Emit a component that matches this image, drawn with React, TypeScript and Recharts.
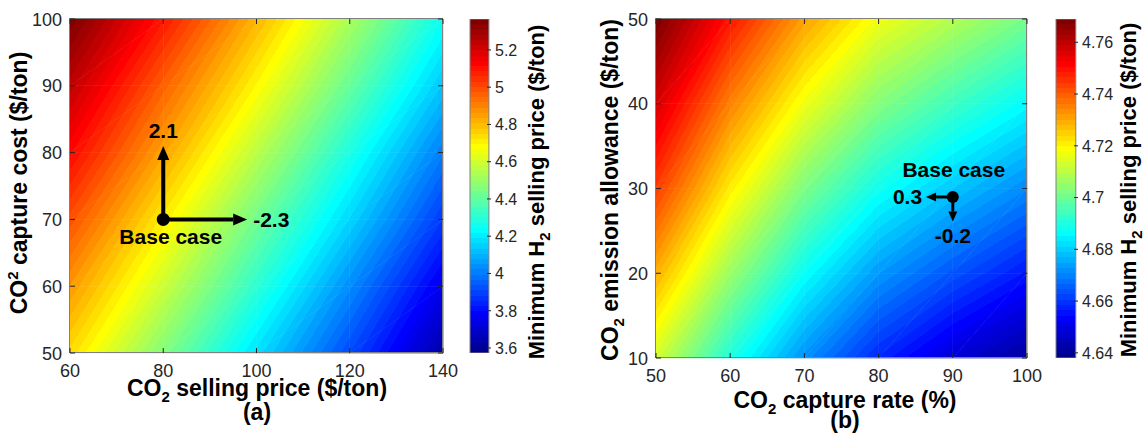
import React from "react";
import {
  ComposedChart,
  XAxis,
  YAxis,
  Scatter,
  Bar,
  ReferenceArea,
  ReferenceLine,
} from "recharts";

const FONT = "'Liberation Sans', Arial, Helvetica, sans-serif";
const INK = "#262626";
const FRAME = "#808080";

// (a) CO2 selling price (x) vs CO2 capture cost (y)
const A_X = [60, 80, 100, 120, 140];
const A_Y = [50, 60, 70, 80, 90, 100];
// minimum H2 selling price at every node, one row per A_Y value
const A_PRICE = [
  [4.74, 4.46, 4.18, 3.91, 3.63],
  [4.86, 4.59, 4.31, 4.03, 3.75],
  [4.99, 4.71, 4.43, 4.16, 3.88],
  [5.12, 4.84, 4.56, 4.28, 4.0],
  [5.24, 4.96, 4.69, 4.41, 4.13],
  [5.36, 5.09, 4.81, 4.53, 4.25],
];
const A_RANGE = [3.573, 5.366];
const A_CB_TICKS = [3.6, 3.8, 4, 4.2, 4.4, 4.6, 4.8, 5, 5.2];
const A_BASE = [{ x: 80, y: 70 }];
const A_ARROWS = [
  { x: 80, y: 81, text: "2.1", dir: "up" },
  { x: 98, y: 70, text: "-2.3", dir: "right" },
];

// (b) CO2 capture rate (x) vs CO2 emission allowance (y)
const B_X = [50, 60, 70, 80, 90, 100];
const B_Y = [10, 20, 30, 40, 50];
const B_PRICE = [
  [4.713, 4.69, 4.672, 4.658, 4.648, 4.641],
  [4.729, 4.706, 4.687, 4.673, 4.664, 4.656],
  [4.744, 4.721, 4.702, 4.688, 4.679, 4.671],
  [4.757, 4.735, 4.717, 4.703, 4.694, 4.686],
  [4.769, 4.749, 4.731, 4.717, 4.709, 4.701],
];
const B_RANGE = [4.638, 4.769];
const B_CB_TICKS = [4.64, 4.66, 4.68, 4.7, 4.72, 4.74, 4.76];
const B_BASE = [{ x: 90, y: 29 }];
const B_ARROWS = [
  { x: 86.4, y: 29, text: "0.3", dir: "left" },
  { x: 90, y: 26.1, text: "-0.2", dir: "down" },
];

// matlab-like jet, 64 levels
const jet = (t: number) => {
  const c = (v: number) => Math.round(255 * Math.min(1, Math.max(0, v)));
  return `rgb(${c(1.5 - Math.abs(4 * t - 3))},${c(1.5 - Math.abs(4 * t - 2))},${c(
    1.5 - Math.abs(4 * t - 1)
  )})`;
};
const LEVELS = 64;
const JET = Array.from({ length: LEVELS }, (_, k) => jet((k + 1) / LEVELS));

const JetGradient = ({ id, ...rest }: any) => (
  <linearGradient id={id} {...rest}>
    {JET.flatMap((c, k) => [
      <stop key={`${k}a`} offset={k / LEVELS} stopColor={c} />,
      <stop key={`${k}b`} offset={(k + 1) / LEVELS} stopColor={c} />,
    ])}
  </linearGradient>
);

type Pt = [number, number];

// one triangle, colour varies linearly between its three corner values
const Tri = ({ gid, base, pts, vals, range }: any) => {
  const [[x0, y0], [x1, y1], [x2, y2]] = pts as Pt[];
  const [f0, f1, f2] = vals as number[];
  const det = (x1 - x0) * (y2 - y0) - (x2 - x0) * (y1 - y0);
  if (!det || !isFinite(det)) return null;
  const gx = ((f1 - f0) * (y2 - y0) - (f2 - f0) * (y1 - y0)) / det;
  const gy = ((x1 - x0) * (f2 - f0) - (x2 - x0) * (f1 - f0)) / det;
  const g2 = gx * gx + gy * gy || 1e-12;
  const cx = (x0 + x1 + x2) / 3;
  const cy = (y0 + y1 + y2) / 3;
  const fc = (f0 + f1 + f2) / 3;
  const s0 = (range[0] - fc) / g2;
  const s1 = (range[1] - fc) / g2;
  return (
    <>
      <linearGradient
        id={gid}
        href={`#${base}`}
        gradientUnits="userSpaceOnUse"
        x1={cx + s0 * gx}
        y1={cy + s0 * gy}
        x2={cx + s1 * gx}
        y2={cy + s1 * gy}
      />
      <polygon
        points={(pts as Pt[]).map((p) => p.join(",")).join(" ")}
        fill={`url(#${gid})`}
        stroke={`url(#${gid})`}
        strokeWidth={0.6}
      />
    </>
  );
};

const Cell4 = ({ x, y, width, height, z, range, base, gid }: any) => {
  const bl: Pt = [x, y + height];
  const br: Pt = [x + width, y + height];
  const tr: Pt = [x + width, y];
  const tl: Pt = [x, y];
  return (
    <g>
      <Tri gid={gid + "a"} base={base} range={range} pts={[bl, br, tr]} vals={[z[0], z[1], z[2]]} />
      <Tri gid={gid + "b"} base={base} range={range} pts={[bl, tr, tl]} vals={[z[0], z[2], z[3]]} />
    </g>
  );
};

const ArrowShape = ({ x1, y1, x2, y2, text, dir, sz }: any) => {
  const L = Math.hypot(x2 - x1, y2 - y1) || 1;
  const ux = (x2 - x1) / L;
  const uy = (y2 - y1) / L;
  const bx = x2 - ux * sz.head;
  const by = y2 - uy * sz.head;
  const nx = -uy * (sz.headW / 2);
  const ny = ux * (sz.headW / 2);
  let tx = x2;
  let ty = y2;
  let anchor = "middle";
  if (dir === "up") ty = y2 - 8;
  if (dir === "down") ty = y2 + 21;
  if (dir === "right") {
    tx = x2 + 6;
    ty = y2 + 7.5;
    anchor = "start";
  }
  if (dir === "left") {
    tx = x2 - 4;
    ty = y2 + 7.5;
    anchor = "end";
  }
  return (
    <g>
      <line x1={x1} y1={y1} x2={bx} y2={by} stroke="#000" strokeWidth={sz.shaft} />
      <polygon points={`${x2},${y2} ${bx + nx},${by + ny} ${bx - nx},${by - ny}`} fill="#000" />
      <text x={tx} y={ty} textAnchor={anchor} fontFamily={FONT} fontWeight="bold" fontSize={21} fill="#000">
        {text}
      </text>
    </g>
  );
};

// text with a raised / lowered "2"
const Scripted = ({ pre, mark, post, dy }: { pre: string; mark: string; post: string; dy: number }) => (
  <>
    <tspan>{pre}</tspan>
    <tspan fontSize={15} dy={dy}>
      {mark}
    </tspan>
    <tspan dy={-dy}>{post}</tspan>
  </>
);

function Panel(props: any) {
  const {
    id, left, width, right, xAxisH, X, Y, Z, range, base, arrows,
    xTicks, yTicks, xTitle, yTitle, tag, xTitleX, xTitleY, tagY, yTitleX, yTitleY,
    baseDx, baseDy, dotR, sz,
  } = props;
  const plotH = 434 - 19 - xAxisH;
  const plotW = width - 70 - right;
  const cells: React.ReactNode[] = [];
  for (let j = 0; j < Y.length - 1; j++) {
    for (let i = 0; i < X.length - 1; i++) {
      const z = [Z[j][i], Z[j][i + 1], Z[j + 1][i + 1], Z[j + 1][i]];
      cells.push(
        <ReferenceArea
          key={`c${i}-${j}`}
          x1={X[i]}
          x2={X[i + 1]}
          y1={Y[j]}
          y2={Y[j + 1]}
          ifOverflow="visible"
          shape={(p: any) => (
            <Cell4 {...p} z={z} range={range} base={`${id}-jet`} gid={`${id}-g${i}-${j}`} />
          )}
        />
      );
    }
  }
  return (
    <div style={{ position: "absolute", left, top: 0 }}>
      <ComposedChart width={width} height={434} margin={{ top: 19, right, bottom: 0, left: 0 }}>
        <defs>
          <JetGradient id={`${id}-jet`} />
        </defs>
        {cells}
        <ReferenceArea
          x1={X[0]}
          x2={X[X.length - 1]}
          y1={Y[0]}
          y2={Y[Y.length - 1]}
          ifOverflow="visible"
          shape={(p: any) => (
            <rect x={p.x - 0.5} y={p.y - 0.5} width={p.width} height={p.height} fill="none" stroke={FRAME} />
          )}
        />
        {arrows.map((a: any, k: number) => (
          <ReferenceLine
            key={`ar${k}`}
            segment={[
              { x: base[0].x, y: base[0].y },
              { x: a.x, y: a.y },
            ]}
            ifOverflow="visible"
            shape={(p: any) => <ArrowShape {...p} text={a.text} dir={a.dir} sz={sz} />}
          />
        ))}
        <Scatter
          data={base}
          isAnimationActive={false}
          shape={(p: any) => (
            <g>
              <circle cx={p.cx} cy={p.cy} r={dotR} fill="#000" />
              <text
                x={p.cx + baseDx}
                y={p.cy + baseDy}
                textAnchor="middle"
                fontFamily={FONT}
                fontWeight="bold"
                fontSize={21}
                fill="#000"
              >
                Base case
              </text>
            </g>
          )}
        />
        <XAxis
          type="number"
          dataKey="x"
          domain={[X[0], X[X.length - 1]]}
          ticks={xTicks}
          interval={0}
          allowDataOverflow
          height={xAxisH}
          tickSize={0}
          tickMargin={0}
          axisLine={false}
          tickLine={false}
          tick={(p: any) => (
            <g>
              <line x1={p.x} y1={p.y} x2={p.x} y2={p.y - 5} stroke={INK} />
              <line x1={p.x} y1={p.y - plotH} x2={p.x} y2={p.y - plotH + 5} stroke={INK} />
              <text x={p.x} y={p.y + 24} textAnchor="middle" fontFamily={FONT} fontSize={18} fill={INK}>
                {p.payload.value}
              </text>
            </g>
          )}
          label={() => (
            <g fontFamily={FONT} fontWeight="bold" fill="#000">
              <text x={xTitleX} y={xTitleY} textAnchor="middle" fontSize={23}>
                <Scripted {...xTitle} />
              </text>
              <text x={xTitleX} y={tagY} textAnchor="middle" fontSize={23}>
                {tag}
              </text>
            </g>
          )}
        />
        <YAxis
          type="number"
          dataKey="y"
          domain={[Y[0], Y[Y.length - 1]]}
          ticks={yTicks}
          interval={0}
          allowDataOverflow
          width={70}
          tickSize={0}
          tickMargin={0}
          axisLine={false}
          tickLine={false}
          tick={(p: any) => (
            <g>
              <line x1={p.x} y1={p.y} x2={p.x + 5} y2={p.y} stroke={INK} />
              <line x1={p.x + plotW} y1={p.y} x2={p.x + plotW - 5} y2={p.y} stroke={INK} />
              <text x={p.x - 8} y={p.y + 6.5} textAnchor="end" fontFamily={FONT} fontSize={18} fill={INK}>
                {p.payload.value}
              </text>
            </g>
          )}
          label={() => (
            <text
              transform={`translate(${yTitleX},${yTitleY}) rotate(-90)`}
              textAnchor="middle"
              fontFamily={FONT}
              fontWeight="bold"
              fontSize={23}
              fill="#000"
            >
              <Scripted {...yTitle} />
            </text>
          )}
        />
      </ComposedChart>
    </div>
  );
}

function Colorbar({ id, left, plotW, plotH, range, ticks, titleX, titleY }: any) {
  const width = 9 + plotW + 70;
  const data = [{ name: "cb", span: range }];
  return (
    <div style={{ position: "absolute", left, top: 0 }}>
      <ComposedChart
        width={width}
        height={434}
        data={data}
        barCategoryGap={0}
        margin={{ top: 19, right: 0, bottom: 434 - 19 - plotH, left: 9 }}
      >
        <defs>
          <JetGradient id={`${id}-cb`} x1={0} y1={1} x2={0} y2={0} />
        </defs>
        <XAxis type="category" dataKey="name" hide />
        <YAxis
          type="number"
          orientation="right"
          domain={range}
          ticks={ticks}
          interval={0}
          allowDataOverflow
          width={70}
          tickSize={0}
          tickMargin={0}
          axisLine={false}
          tickLine={false}
          tick={(p: any) => (
            <g>
              <line x1={p.x - 3} y1={p.y} x2={p.x + 1} y2={p.y} stroke={INK} />
              <text x={p.x + 5} y={p.y + 5.8} textAnchor="start" fontFamily={FONT} fontSize={16} fill={INK}>
                {String(p.payload.value)}
              </text>
            </g>
          )}
          label={() => (
            <text
              transform={`translate(${titleX},${titleY}) rotate(-90)`}
              textAnchor="middle"
              fontFamily={FONT}
              fontWeight="bold"
              fontSize={22}
              fill="#000"
            >
              <Scripted pre="Minimum H" mark="2" post=" selling price ($/ton)" dy={6} />
            </text>
          )}
        />
        <Bar
          dataKey="span"
          barSize={plotW}
          fill={`url(#${id}-cb)`}
          stroke={FRAME}
          isAnimationActive={false}
        />
      </ComposedChart>
    </div>
  );
}

export default function App() {
  return (
    <div
      style={{
        position: "absolute",
        left: 0,
        top: 0,
        width: 1148,
        height: 434,
        background: "#fff",
        overflow: "hidden",
      }}
    >
      <Panel
        id="pa"
        left={0}
        width={460}
        right={17}
        xAxisH={81}
        X={A_X}
        Y={A_Y}
        Z={A_PRICE}
        range={A_RANGE}
        base={A_BASE}
        arrows={A_ARROWS}
        xTicks={[60, 80, 100, 120, 140]}
        yTicks={[50, 60, 70, 80, 90, 100]}
        xTitle={{ pre: "CO", mark: "2", post: " selling price ($/ton)", dy: 6 }}
        yTitle={{ pre: "CO", mark: "2", post: " capture cost ($/ton)", dy: -9 }}
        tag="(a)"
        xTitleX={257}
        xTitleY={396}
        tagY={420}
        yTitleX={27}
        yTitleY={183}
        baseDx={7.5}
        baseDy={25}
        dotR={6.5}
        sz={{ head: 14, headW: 12, shaft: 4 }}
      />
      <Colorbar id="ca" left={460} plotW={21} plotH={334} range={A_RANGE} ticks={A_CB_TICKS} titleX={84} titleY={192} />
      <Panel
        id="pb"
        left={586}
        width={460}
        right={19}
        xAxisH={76}
        X={B_X}
        Y={B_Y}
        Z={B_PRICE}
        range={B_RANGE}
        base={B_BASE}
        arrows={B_ARROWS}
        xTicks={[50, 60, 70, 80, 90, 100]}
        yTicks={[10, 20, 30, 40, 50]}
        xTitle={{ pre: "CO", mark: "2", post: " capture rate (%)", dy: 6 }}
        yTitle={{ pre: "CO", mark: "2", post: " emission allowance ($/ton)", dy: 6 }}
        tag="(b)"
        xTitleX={259}
        xTitleY={408}
        tagY={428}
        yTitleX={32}
        yTitleY={190}
        baseDx={1}
        baseDy={-20}
        dotR={6}
        sz={{ head: 10, headW: 9, shaft: 3 }}
      />
      <Colorbar id="cb" left={1046} plotW={22} plotH={339} range={B_RANGE} ticks={B_CB_TICKS} titleX={90} titleY={190} />
    </div>
  );
}
